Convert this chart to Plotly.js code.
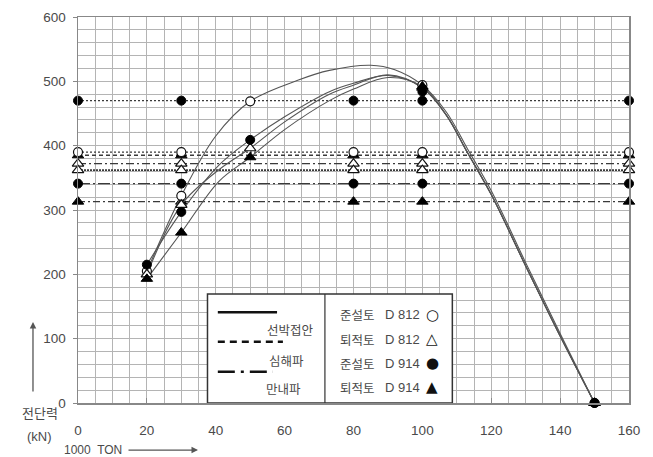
<!DOCTYPE html>
<html>
<head>
<meta charset="utf-8">
<script src="https://cdn.plot.ly/plotly-3.0.1.min.js"></script>
<style>html,body{margin:0;padding:0;background:#fff;}#chart{width:653px;height:457px;}</style>
</head>
<body>
<div id="chart"></div>
<script>
// ---------- data ----------
const xTickVals = [0, 20, 40, 60, 80, 100, 120, 140, 160];
const yTickVals = [0, 100, 200, 300, 400, 500, 600];

// horizontal reference levels (kN) with their marker positions
const refX = [0, 30, 80, 100, 160];
const refFilledCircleHigh = 470;
const refOpenCircle = 390;
const refFilledTriangleHigh = 385;
const refOpenTriangleHigh = 372;
const refOpenTriangleLow = 362;
const refFilledCircleLow = 341;
const refFilledTriangleLow = 313;

// curves (read points along each line)
const curveOpenCircleX = [20, 30, 40, 50, 64, 73, 85, 92, 100, 107, 113, 120, 130, 140, 150];
const curveOpenCircleY = [205, 322, 415, 469, 502, 517, 525, 518, 494, 452, 396, 330, 218, 108, 0];
const curveFilledCircleX = [20, 30, 41, 50, 60, 73, 80, 90, 100, 107, 113, 120, 130, 140, 150];
const curveFilledCircleY = [215, 297, 370, 409, 445, 484, 497, 509, 490, 447, 390, 324, 213, 104, 0];
const curveOpenTriangleX = [20, 30, 41, 50, 60, 73, 80, 90, 100, 107, 113, 120, 130, 140, 150];
const curveOpenTriangleY = [200, 308, 363, 396, 437, 480, 494, 510, 490, 447, 390, 324, 213, 104, 0];
const curveFilledTriangleX = [20, 30, 41, 50, 60, 73, 80, 90, 100, 107, 113, 120, 130, 140, 150];
const curveFilledTriangleY = [193, 265, 345, 382, 425, 470, 488, 506, 492, 447, 390, 324, 213, 104, 0];

// measured points (markers on curves)
const ptX = [20, 30, 50, 100, 150];
const ptOpenCircleY = [205, 322, 469, 494, 0];
const ptOpenTriangleY = [200, 308, 396, 490, 0];
const ptFilledCircleY = [215, 297, 409, 484, 0];
const ptFilledTriangleY = [193, 265, 382, 492, 0];

// legend texts
const lineLegend = ['선박접안', '심해파', '만내파'];
const soilLegend = ['준설토', '퇴적토', '준설토', '퇴적토'];
const soilCode = ['D 812', 'D 812', 'D 914', 'D 914'];
const soilSymbol = ['○', '△', '●', '▲'];

// ---------- styles ----------
const LINE = '#3a3a3a';
const CURVE = '#555';
const TXT = '#4a4a4a';

const mk = {
  oc: {symbol: 'circle', size: 9, color: '#fff', line: {color: '#111', width: 1.2}},
  ot: {symbol: 'triangle-up', size: 10, color: '#fff', line: {color: '#111', width: 1.2}},
  fc: {symbol: 'circle', size: 9, color: '#000', line: {color: '#000', width: 1}},
  ft: {symbol: 'triangle-up', size: 10, color: '#000', line: {color: '#000', width: 1}}
};

function ref(level, dash, width, marker) {
  return {x: refX, y: refX.map(() => level), mode: 'lines+markers', type: 'scatter',
    line: {color: LINE, width: width, dash: dash}, marker: marker, cliponaxis: false, hoverinfo: 'none'};
}
function curve(x, y) {
  return {x: x, y: y, mode: 'lines', type: 'scatter',
    line: {color: CURVE, width: 1.1, shape: 'spline', smoothing: 1.0}, hoverinfo: 'none'};
}
function pts(y, marker) {
  return {x: ptX, y: y, mode: 'markers', type: 'scatter', marker: marker, cliponaxis: false, hoverinfo: 'none'};
}

const traces = [
  ref(refFilledCircleHigh, '2px,2px', 1.2, mk.fc),
  ref(refFilledTriangleHigh, '4px,3px', 1.4, mk.ft),
  ref(refOpenCircle, '2px,2px', 1.4, mk.oc),
  ref(refOpenTriangleHigh, '8px,3px,2px,3px', 1.2, mk.ot),
  ref(refOpenTriangleLow, '2px,1px', 1.8, mk.ot),
  ref(refFilledCircleLow, '12px,3px,2px,3px', 1.2, mk.fc),
  ref(refFilledTriangleLow, '7px,3px,2px,3px', 1.2, mk.ft),
  curve(curveOpenCircleX, curveOpenCircleY),
  curve(curveFilledCircleX, curveFilledCircleY),
  curve(curveOpenTriangleX, curveOpenTriangleY),
  curve(curveFilledTriangleX, curveFilledTriangleY),
  pts(ptOpenCircleY, mk.oc),
  pts(ptOpenTriangleY, mk.ot),
  pts(ptFilledCircleY, mk.fc),
  pts(ptFilledTriangleY, mk.ft)
];

// ---------- legend box (drawn in data coordinates) ----------
const shapes = [
  {type: 'rect', xref: 'x', yref: 'y', x0: 37.6, x1: 108.7, y0: 0, y1: 169.4,
    fillcolor: '#fff', line: {color: '#333', width: 1.5}, layer: 'above'},
  {type: 'line', xref: 'x', yref: 'y', x0: 71.7, x1: 71.7, y0: 0, y1: 169.4,
    line: {color: '#333', width: 1.2}, layer: 'above'},
  {type: 'line', xref: 'x', yref: 'y', x0: 40.6, x1: 57.8, y0: 141, y1: 141,
    line: {color: '#111', width: 2.5}, layer: 'above'},
  {type: 'line', xref: 'x', yref: 'y', x0: 40.6, x1: 59.5, y0: 95.3, y1: 95.3,
    line: {color: '#111', width: 2.5, dash: '7px,5px'}, layer: 'above'},
  {type: 'line', xref: 'x', yref: 'y', x0: 40.6, x1: 56.6, y0: 48.7, y1: 48.7,
    line: {color: '#111', width: 2.5, dash: '17px,6px,3px,6px'}, layer: 'above'}
];

const korFont = {family: '"Noto Sans CJK KR", "Noto Sans", sans-serif', size: 12.5, color: TXT};
const numFont = {family: '"Liberation Sans", Arial, sans-serif', size: 13, color: TXT};
const annotations = [];
const lineTextY = [115, 66.8, 23.3];
const lineTextX = [61.8, 60.4, 59.8];
lineLegend.forEach((t, i) => annotations.push({xref: 'x', yref: 'y', x: lineTextX[i], y: lineTextY[i],
  text: t, showarrow: false, font: korFont, xanchor: 'center', yanchor: 'middle'}));
const soilY = [136.8, 99, 61.7, 24.4];
soilLegend.forEach((t, i) => {
  annotations.push({xref: 'x', yref: 'y', x: 75.6, y: soilY[i], text: t, showarrow: false,
    font: korFont, xanchor: 'left', yanchor: 'middle'});
  annotations.push({xref: 'x', yref: 'y', x: 88.6, y: soilY[i], text: soilCode[i], showarrow: false,
    font: numFont, xanchor: 'left', yanchor: 'middle'});
  annotations.push({xref: 'x', yref: 'y', x: 102.9, y: soilY[i], text: soilSymbol[i], showarrow: false,
    font: {family: '"DejaVu Sans", sans-serif', size: 15, color: '#111'}, xanchor: 'center', yanchor: 'middle'});
});
// axis captions and arrows
annotations.push({xref: 'paper', yref: 'paper', x: -0.069, y: -0.025, text: '전단력', showarrow: false,
  font: {family: '"Noto Sans CJK KR", sans-serif', size: 13, color: TXT}, xanchor: 'center', yanchor: 'middle'});
annotations.push({xref: 'paper', yref: 'paper', x: -0.069, y: -0.088, text: '(kN)', showarrow: false,
  font: {family: '"Liberation Sans", Arial, sans-serif', size: 13, color: TXT}, xanchor: 'center', yanchor: 'middle'});
annotations.push({xref: 'paper', yref: 'paper', x: 0.028, y: -0.122, text: '1000  TON', showarrow: false,
  font: {family: '"Liberation Sans", Arial, sans-serif', size: 12, color: TXT}, xanchor: 'center', yanchor: 'middle'});
annotations.push({xref: 'paper', yref: 'paper', x: -0.0817, y: 0.21, ax: 0, ay: 71, text: '',
  showarrow: true, arrowhead: 2, arrowsize: 1, arrowwidth: 1.3, arrowcolor: '#555'});
annotations.push({xref: 'paper', yref: 'paper', x: 0.2178, y: -0.122, ax: -71, ay: 0, text: '',
  showarrow: true, arrowhead: 2, arrowsize: 1, arrowwidth: 1.3, arrowcolor: '#555'});

const layout = {
  width: 653, height: 457,
  margin: {l: 78, r: 24, t: 17, b: 54},
  paper_bgcolor: '#fff', plot_bgcolor: '#fff',
  showlegend: false,
  font: {family: '"Liberation Sans", Arial, sans-serif', size: 13, color: TXT},
  xaxis: {range: [0, 160], tickvals: xTickVals, ticktext: xTickVals.map(String),
    showgrid: true, gridcolor: '#b4b4b4', gridwidth: 1,
    minor: {dtick: 5, showgrid: true, gridcolor: '#b4b4b4', gridwidth: 1},
    showline: true, mirror: true, linecolor: '#888', linewidth: 1.5,
    ticks: 'inside', ticklen: 5, tickcolor: '#888', ticklabelstandoff: 14,
    zeroline: false, fixedrange: true, tickfont: {size: 13.5, color: TXT}},
  yaxis: {range: [0, 600], tickvals: yTickVals, ticktext: yTickVals.map(String),
    showgrid: true, gridcolor: '#b4b4b4', gridwidth: 1,
    minor: {dtick: 20, showgrid: true, gridcolor: '#b4b4b4', gridwidth: 1},
    showline: true, mirror: true, linecolor: '#888', linewidth: 1.5,
    ticks: 'outside', ticklen: 4, tickcolor: '#888', ticklabelstandoff: 4,
    zeroline: false, fixedrange: true, tickfont: {size: 13.5, color: TXT}},
  shapes: shapes,
  annotations: annotations
};

Plotly.newPlot('chart', traces, layout, {staticPlot: true, displayModeBar: false});
</script>
</body>
</html>
